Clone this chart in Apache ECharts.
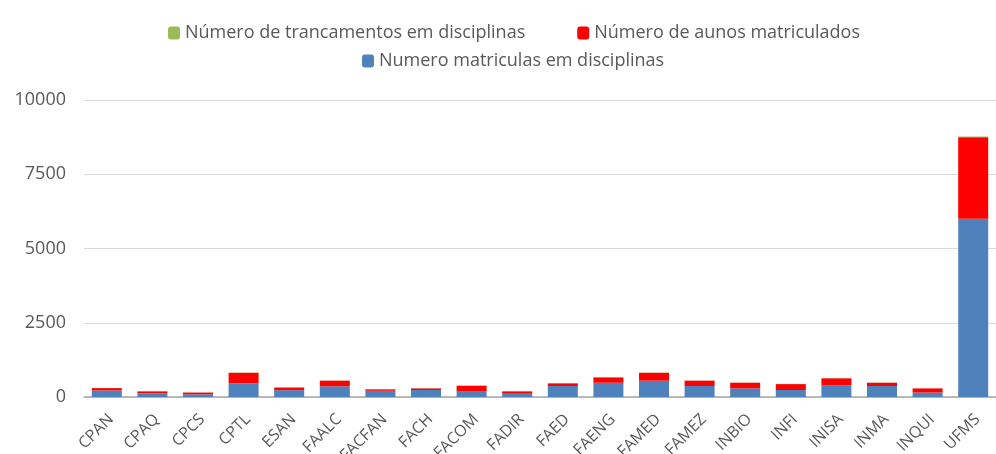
<!DOCTYPE html>
<html>
<head>
<meta charset="utf-8">
<script src="https://cdn.jsdelivr.net/npm/echarts@6/dist/echarts.min.js"></script>
<style>
  html, body { margin: 0; padding: 0; background: #fff; }
  #main { width: 996px; height: 454px; }
</style>
</head>
<body>
<div id="main"></div>
<script>
// units
const categories = ['CPAN', 'CPAQ', 'CPCS', 'CPTL', 'ESAN', 'FAALC', 'FACFAN', 'FACH', 'FACOM', 'FADIR',
  'FAED', 'FAENG', 'FAMED', 'FAMEZ', 'INBIO', 'INFI', 'INISA', 'INMA', 'INQUI', 'UFMS'];
// blue - Numero matriculas em disciplinas
const matriculas = [220, 120, 90, 460, 230, 360, 210, 235, 180, 110,
  370, 480, 550, 370, 290, 235, 400, 370, 150, 6000];
// red - Número de aunos matriculados
const alunos = [80, 70, 60, 355, 90, 190, 50, 55, 200, 80,
  90, 180, 265, 180, 190, 200, 230, 110, 140, 2750];
// green - Número de trancamentos em disciplinas
const trancamentos = [5, 4, 3, 8, 5, 6, 4, 5, 5, 3,
  6, 6, 8, 6, 5, 5, 6, 5, 4, 20];
const yTicks = [0, 2500, 5000, 7500, 10000];

const textColor = '#595959';
const font = 'Open Sans';

const chart = echarts.init(document.getElementById('main'));
chart.setOption({
  animation: false,
  textStyle: { fontFamily: font },
  legend: [
    {
      data: ['Número de trancamentos em disciplinas', 'Número de aunos matriculados'],
      top: 19, left: 163, itemWidth: 12, itemHeight: 13, itemGap: 52,
      textStyle: { color: textColor, fontSize: 18, fontFamily: font }
    },
    {
      data: ['Numero matriculas em disciplinas'],
      top: 47, left: 357, itemWidth: 12, itemHeight: 13,
      textStyle: { color: textColor, fontSize: 18, fontFamily: font }
    }
  ],
  grid: { left: 84, right: 0, top: 100, bottom: 57, containLabel: false, outerBoundsMode: 'none' },
  xAxis: {
    type: 'category',
    data: categories,
    axisLine: { lineStyle: { color: '#a6a6a6', width: 1.5 } },
    axisTick: { show: false },
    axisLabel: { rotate: 45, color: textColor, fontSize: 16, interval: 0, margin: 24, padding: [0, -6, 0, 0] }
  },
  yAxis: {
    type: 'value',
    min: yTicks[0], max: yTicks[yTicks.length - 1], interval: 2500,
    axisLine: { show: false },
    axisTick: { show: false },
    axisLabel: { color: textColor, fontSize: 18, margin: 18, formatter: v => String(v) },
    splitLine: { lineStyle: { color: '#d9d9d9', width: 1 } }
  },
  series: [
    {
      name: 'Numero matriculas em disciplinas', type: 'bar', stack: 'total',
      data: matriculas, barWidth: 30, itemStyle: { color: '#4f81bd' }
    },
    {
      name: 'Número de aunos matriculados', type: 'bar', stack: 'total',
      data: alunos, barWidth: 30, itemStyle: { color: '#ff0000' }
    },
    {
      name: 'Número de trancamentos em disciplinas', type: 'bar', stack: 'total',
      data: trancamentos, barWidth: 30, itemStyle: { color: '#9bbb59' }
    }
  ]
});
</script>
</body>
</html>
